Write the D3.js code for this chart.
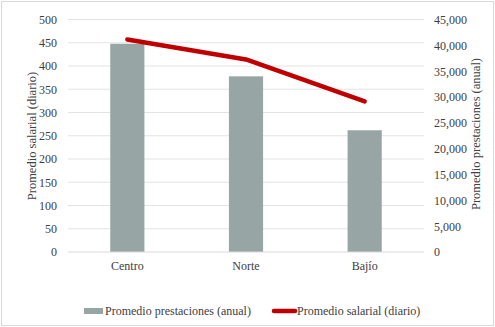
<!DOCTYPE html>
<html><head><meta charset="utf-8">
<script src="https://cdn.jsdelivr.net/npm/d3@7"></script>
<style>body{margin:0;background:#fff;} svg text{font-family:"Liberation Serif","Times New Roman",serif !important;}</style>
</head><body><svg id="c" width="495" height="327"></svg>
<script>
const categories = ["Centro", "Norte", "Bajío"];
const prestaciones = [40300, 34000, 23560];
const salarial = [457, 414, 324];
const leftTicks = [0,50,100,150,200,250,300,350,400,450,500];
const rightTicks = [0,5000,10000,15000,20000,25000,30000,35000,40000,45000];

const svg = d3.select("#c");
const W = 495, H = 327;
const m = {l:68, r:424, t:19.5, b:252};
const txt = "#404040";
const FS = 12;
const FT = 12.5;
const FF = '"Liberation Serif", serif';

svg.append("rect").attr("x",1.5).attr("y",1.5).attr("width",W-3).attr("height",H-3)
  .attr("fill","#fff").attr("stroke","#d9d9d9");

const x = d3.scaleBand().domain(categories).range([m.l, m.r]).paddingInner(0.712).paddingOuter(0.356);
const yL = d3.scaleLinear().domain([0,500]).range([m.b, m.t]);
const yR = d3.scaleLinear().domain([0,45000]).range([m.b, m.t]);

svg.append("g").selectAll("line").data(leftTicks.slice(1)).join("line")
  .attr("x1",m.l).attr("x2",m.r).attr("y1",d=>yL(d)).attr("y2",d=>yL(d))
  .attr("stroke","#e3e3e3").attr("stroke-width",1);

svg.append("g").selectAll("rect").data(categories).join("rect")
  .attr("x",d=>x(d)).attr("width",x.bandwidth())
  .attr("y",(d,i)=>yR(prestaciones[i])).attr("height",(d,i)=>m.b - yR(prestaciones[i]))
  .attr("fill","#97a6a4");

svg.append("line").attr("x1",m.l).attr("x2",m.r).attr("y1",m.b).attr("y2",m.b)
  .attr("stroke","#d9d9d9").attr("stroke-width",1);

const line = d3.line().x((d,i)=>x(categories[i]) + x.bandwidth()/2).y(d=>yL(d));
svg.append("path").datum(salarial).attr("d",line).attr("fill","none")
  .attr("stroke","#c00000").attr("stroke-width",4.5).attr("stroke-linecap","round").attr("stroke-linejoin","round");

function styleAxis(g){
  g.attr("font-family",FF).attr("font-size",FS);
  g.select(".domain").remove();
  g.selectAll("text").attr("fill",txt).style("font-family",FF).style("font-size",FS+"px");
}

const gL = svg.append("g").attr("transform",`translate(${m.l},0)`)
  .call(d3.axisLeft(yL).tickValues(leftTicks).tickSize(0).tickPadding(11));
styleAxis(gL);

const gR = svg.append("g").attr("transform",`translate(${m.r},0)`)
  .call(d3.axisRight(yR).tickValues(rightTicks).tickSize(0).tickPadding(10).tickFormat(d3.format(",")));
styleAxis(gR);

const gX = svg.append("g").attr("transform",`translate(0,${m.b})`)
  .call(d3.axisBottom(x).tickSize(0).tickPadding(9));
styleAxis(gX);

svg.append("text").attr("transform","translate(36,136) rotate(-90)").attr("text-anchor","middle")
  .style("font-family",FF).style("font-size",FT+"px").attr("fill",txt).text("Promedio salarial (diario)");
svg.append("text").attr("transform","translate(480,134) rotate(-90)").attr("text-anchor","middle")
  .style("font-family",FF).style("font-size",FT+"px").attr("fill",txt).text("Promedio prestaciones (anual)");

const ly = 311;
svg.append("rect").attr("x",84).attr("y",ly-3).attr("width",19).attr("height",6).attr("fill","#97a6a4");
svg.append("text").attr("x",105).attr("y",ly).attr("dy","0.35em").style("font-family",FF).style("font-size",FS+"px").attr("fill",txt).text("Promedio prestaciones (anual)");
svg.append("line").attr("x1",274).attr("x2",295).attr("y1",ly).attr("y2",ly).attr("stroke","#c00000").attr("stroke-width",4.5).attr("stroke-linecap","round");
svg.append("text").attr("x",297).attr("y",ly).attr("dy","0.35em").style("font-family",FF).style("font-size",FS+"px").attr("fill",txt).text("Promedio salarial (diario)");
</script></body></html>
